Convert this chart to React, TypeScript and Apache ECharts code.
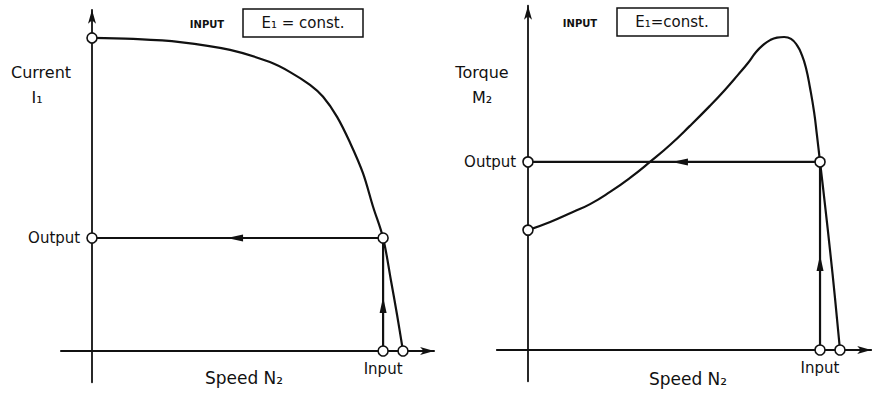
import React, { useEffect, useRef } from "react";
import * as echarts from "echarts";

// Left panel: stator current I1 versus speed N2 (relative units, synchronous speed = 100)
const speedCurrent = [0, 13.2, 28.3, 44.4, 57.2, 63.7, 70.1, 74.3, 78.8, 83.0, 87.1, 90.4, 93.6, 96.1, 98.1, 100];
const current = [100, 99.7, 98.7, 96.2, 92.3, 89.1, 85.0, 81.2, 74.8, 66.5, 56.9, 46.0, 36.1, 22.7, 11.5, 0];

// Right panel: torque M2 versus speed N2
const speedTorque = [0, 7.1, 14.4, 19.9, 26.3, 32.7, 39.1, 45.5, 51.9, 58.3, 63.1, 67.3, 70.5, 73.1, 75.3, 77.6, 79.8, 82.1, 84.3, 86.2, 87.8, 89.1, 90.4, 91.7, 92.6, 93.6, 95.2, 96.8, 98.4, 100];
const torque = [38.3, 40.9, 44.1, 46.6, 50.5, 55.0, 60.1, 65.5, 71.6, 78.0, 83.1, 87.9, 91.7, 95.2, 97.4, 99.0, 99.8, 100, 99.4, 97.4, 94.2, 90.1, 83.7, 76.0, 68.7, 60.1, 46.3, 31.9, 16.6, 0];

// Operating point and characteristic values
const inputSpeed = 93.6;
const syncSpeed = 100;
const outputCurrent = 36.1;
const outputTorque = 60.1;
const startCurrent = 100;
const startTorque = 38.3;
const arrowLeftCurrent = 46;
const arrowUpCurrent = 14.7;
const arrowLeftTorque = 48.7;
const arrowUpTorque = 27.8;

const FONT = "DejaVu Sans";
const INK = "#111";

export default function App() {
  const ref = useRef<HTMLDivElement>(null);

  useEffect(() => {
    document.body.style.margin = "0";
    const chart = echarts.init(ref.current!, null, { renderer: "svg" });

    const axisCommon = {
      type: "value" as const,
      splitLine: { show: false },
      axisTick: { show: false },
      axisLabel: { show: false },
    };
    const axLine = {
      show: true,
      onZero: true,
      symbol: ["none", "arrow"],
      symbolSize: [6, 14],
      lineStyle: { color: INK, width: 1.8 },
    };
    const xAx = (gridIndex: number) => ({
      ...axisCommon,
      gridIndex,
      min: -10,
      max: 110,
      axisLine: axLine,
    });
    const yAx = (gridIndex: number, max: number) => ({
      ...axisCommon,
      gridIndex,
      min: -10,
      max,
      axisLine: axLine,
    });

    const lineSeries = (idx: number, data: number[][], smooth: number | boolean = false) => ({
      type: "line" as const,
      xAxisIndex: idx,
      yAxisIndex: idx,
      data,
      smooth,
      showSymbol: false,
      silent: true,
      lineStyle: { color: INK, width: 2.2, opacity: 1 },
      z: 2,
    });

    const circle = (value: number[], label?: any) => ({
      value,
      label: label ?? { show: false },
    });
    const circles = (idx: number, data: any[]) => ({
      type: "scatter" as const,
      xAxisIndex: idx,
      yAxisIndex: idx,
      symbol: "circle",
      symbolSize: 10,
      silent: true,
      itemStyle: { color: "#fff", borderColor: INK, borderWidth: 1.6, opacity: 1 },
      data,
      z: 5,
    });
    const arrows = (idx: number, data: any[]) => ({
      type: "scatter" as const,
      xAxisIndex: idx,
      yAxisIndex: idx,
      symbol: "triangle",
      symbolSize: [7, 16],
      silent: true,
      itemStyle: { color: INK, opacity: 1 },
      data,
      z: 4,
    });
    const lblLeft = (text: string) => ({
      show: true,
      position: "left",
      distance: 6,
      formatter: text,
      color: INK,
      opacity: 1,
      fontFamily: FONT,
      fontSize: 15,
    });
    const lblBottom = (text: string) => ({
      show: true,
      position: "bottom",
      distance: 5,
      formatter: text,
      color: INK,
      opacity: 1,
      fontFamily: FONT,
      fontSize: 15,
    });

    const textEl = (x: number, y: number, text: string, size: number, weight = "normal") => ({
      type: "text",
      x,
      y,
      style: {
        text,
        fill: INK,
        font: `${weight} ${size}px "${FONT}"`,
        textAlign: "center",
        textVerticalAlign: "middle",
      },
    });

    chart.setOption({
      animation: false,
      backgroundColor: "#fff",
      grid: [
        { left: 60.9, right: 445.9, top: 9.8, bottom: 12.7 },
        { left: 496.8, right: 8.8, top: 5.7, bottom: 13.7 },
      ],
      xAxis: [xAx(0), xAx(1)],
      yAxis: [yAx(0, 109), yAx(1, 110)],
      series: [
        lineSeries(0, speedCurrent.map((s, i) => [s, current[i]]), 0.35),
        lineSeries(0, [[0, outputCurrent], [inputSpeed, outputCurrent]]),
        lineSeries(0, [[inputSpeed, 0], [inputSpeed, outputCurrent]]),
        arrows(0, [
          { value: [arrowLeftCurrent, outputCurrent], symbolRotate: 90 },
          { value: [inputSpeed, arrowUpCurrent], symbolRotate: 0 },
        ]),
        circles(0, [
          circle([0, startCurrent]),
          circle([0, outputCurrent], lblLeft("Output")),
          circle([inputSpeed, outputCurrent]),
          circle([inputSpeed, 0], lblBottom("Input")),
          circle([syncSpeed, 0]),
        ]),

        lineSeries(1, speedTorque.map((s, i) => [s, torque[i]]), 0.5),
        lineSeries(1, [[0, outputTorque], [inputSpeed, outputTorque]]),
        lineSeries(1, [[inputSpeed, 0], [inputSpeed, outputTorque]]),
        arrows(1, [
          { value: [arrowLeftTorque, outputTorque], symbolRotate: 90 },
          { value: [inputSpeed, arrowUpTorque], symbolRotate: 0 },
        ]),
        circles(1, [
          circle([0, startTorque]),
          circle([0, outputTorque], lblLeft("Output")),
          circle([inputSpeed, outputTorque]),
          circle([inputSpeed, 0], lblBottom("Input")),
          circle([syncSpeed, 0]),
        ]),
      ],
      graphic: [
        // left panel texts
        textEl(41, 72, "Current", 16),
        textEl(37, 97, "I₁", 16),
        textEl(244, 378, "Speed N₂", 17),
        textEl(207, 24, "INPUT", 10, "bold"),
        {
          type: "rect",
          shape: { x: 243, y: 9, width: 120, height: 28 },
          style: { fill: "#fff", stroke: INK, lineWidth: 1.5 },
        },
        textEl(303, 23, "E₁ = const.", 15),
        // right panel texts
        textEl(482, 72, "Torque", 16),
        textEl(482, 97, "M₂", 16),
        textEl(688, 379, "Speed N₂", 17),
        textEl(580, 23, "INPUT", 10, "bold"),
        {
          type: "rect",
          shape: { x: 617, y: 8, width: 111, height: 28 },
          style: { fill: "#fff", stroke: INK, lineWidth: 1.5 },
        },
        textEl(672, 22, "E₁=const.", 15),
      ],
    });

    return () => chart.dispose();
  }, []);

  return (
    <div
      ref={ref}
      style={{ position: "absolute", left: 0, top: 0, width: 880, height: 395 }}
    />
  );
}
